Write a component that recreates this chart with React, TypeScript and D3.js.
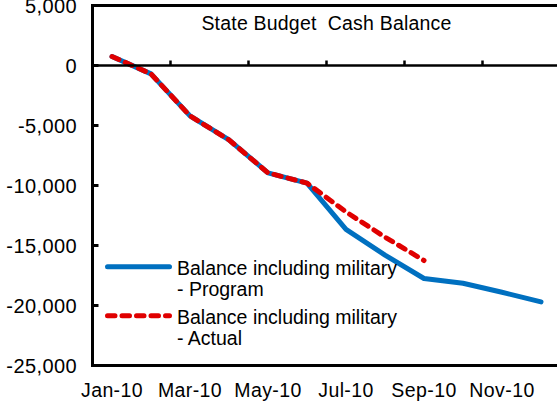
import React from "react";
import * as d3 from "d3";

const months = ["Jan-10", "Feb-10", "Mar-10", "Apr-10", "May-10", "Jun-10", "Jul-10", "Aug-10", "Sep-10", "Oct-10", "Nov-10", "Dec-10"];
const programValues = [750, -700, -4200, -6200, -8950, -9800, -13650, -15800, -17750, -18150, -18900, -19700];
const actualValues = [750, -700, -4200, -6200, -8950, -9800, -12200, -14300, -16250];
const yTicks = [5000, 0, -5000, -10000, -15000, -20000, -25000];
const xTickLabels = ["Jan-10", "Mar-10", "May-10", "Jul-10", "Sep-10", "Nov-10"];
const seriesNames = ["Balance including military", "Balance including military"];
const seriesSub = ["- Program", "- Actual"];
const chartTitle = "State Budget  Cash Balance";

const W = 557;
const H = 404;
const FONT = "'Liberation Sans', Arial, sans-serif";
const BLUE = "#0070c0";
const RED = "#e00000";

export default function App() {
  const left = 92.5;
  const right = 560.5;
  const top = 5.5;
  const bottom = 365.5;

  const x = d3.scaleBand<string>().domain(months).range([left, right]).padding(0);
  const cx = (m: string) => (x(m) as number) + x.bandwidth() / 2;
  const y = d3.scaleLinear().domain([-25000, 5000]).range([bottom, top]);
  const fmt = (v: number) => d3.format(",")(v).replace("\u2212", "-");

  const line = d3
    .line<number>()
    .x((_, i) => cx(months[i]))
    .y((v) => y(v))
    .curve(d3.curveLinear);

  const boundaries = d3.range(0, months.length + 1, 2).map((i) => left + i * x.bandwidth());

  const legendX0 = 107.5;
  const legendX1 = 169.5;
  const legendTextX = 177;
  const legendRows = [
    { color: BLUE, dash: undefined as string | undefined, lineY: 266.7, base: 274.5 },
    { color: RED, dash: "7.5,7", lineY: 315.7, base: 323.5 },
  ];

  return (
    <svg width={W} height={H} style={{ position: "absolute", left: 0, top: 0, background: "#fff" }} fontFamily={FONT}>
      <rect x={0} y={0} width={W} height={H} fill="#fff" />
      {/* series */}
      <path d={line(programValues) || ""} fill="none" stroke={BLUE} strokeWidth={5} strokeLinejoin="round" strokeLinecap="round" />
      <path d={line(actualValues) || ""} fill="none" stroke={RED} strokeWidth={5} strokeDasharray="7.5,7" strokeLinejoin="round" strokeLinecap="round" />

      {/* zero category axis */}
      <line x1={left} x2={right} y1={y(0)} y2={y(0)} stroke="#000" strokeWidth={2.5} />
      {boundaries.map((bx, i) => (
        <line key={"xt" + i} x1={bx} x2={bx} y1={y(0)} y2={y(0) - 5} stroke="#000" strokeWidth={2.5} />
      ))}

      {/* frame */}
      <line x1={left} x2={right} y1={top} y2={top} stroke="#000" strokeWidth={3} />
      <line x1={left} x2={right} y1={bottom} y2={bottom} stroke="#000" strokeWidth={3} />
      <line x1={left} x2={left} y1={top - 1.5} y2={bottom + 1.5} stroke="#000" strokeWidth={3} />

      {/* y ticks */}
      {yTicks.map((t) => (
        <g key={"yt" + t}>
          <line x1={left} x2={left + 6} y1={y(t)} y2={y(t)} stroke="#000" strokeWidth={3} />
          <text x={77} y={y(t)} dy="0.36em" textAnchor="end" fontSize={20} letterSpacing={0.4} fill="#000">
            {fmt(t)}
          </text>
        </g>
      ))}

      {/* x labels */}
      {xTickLabels.map((m) => (
        <text key={"xl" + m} x={cx(m)} y={397.3} textAnchor="middle" fontSize={19.5} fill="#000" letterSpacing={0.4}>
          {m}
        </text>
      ))}

      {/* title */}
      <text x={(left + right) / 2 + 0} y={29.5} textAnchor="middle" fontSize={19.5} letterSpacing={0.2} fill="#000" style={{ whiteSpace: "pre" }}>
        {chartTitle}
      </text>

      {/* legend */}
      {legendRows.map((r, i) => (
        <g key={"lg" + i}>
          <line x1={legendX0} x2={legendX1} y1={r.lineY} y2={r.lineY} stroke={r.color} strokeWidth={5} strokeDasharray={r.dash} strokeLinecap="round" />
          <text x={legendTextX} y={r.base} fontSize={19.5} fill="#000">
            {seriesNames[i]}
          </text>
          <text x={legendTextX} y={r.base + 21.8} fontSize={19.5} fill="#000">
            {seriesSub[i]}
          </text>
        </g>
      ))}
    </svg>
  );
}
